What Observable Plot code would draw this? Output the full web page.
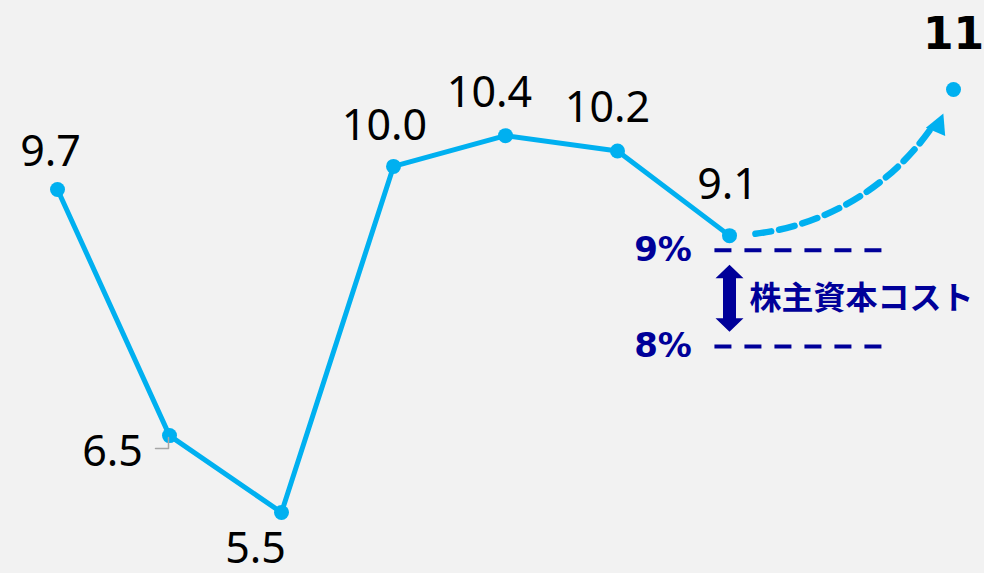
<!DOCTYPE html>
<html>
<head>
<meta charset="utf-8">
<script src="https://cdn.jsdelivr.net/npm/d3@7"></script>
<script src="https://cdn.jsdelivr.net/npm/@observablehq/plot@0.6"></script>
<style>
  html, body { margin: 0; padding: 0; background: #f2f2f2; }
  #chart { width: 984px; height: 573px; overflow: hidden; }
</style>
</head>
<body>
<div id="chart"></div>
<script>
// ---- data ----
const periodIndex = [0, 1, 2, 3, 4, 5, 6];
const roeValues = [9.7, 6.5, 5.5, 10.0, 10.4, 10.2, 9.1];
const targetIndex = 8;
const targetValue = 11;
const targetLabel = "11";
const costLabels = ["9%", "8%"];
const costLinePositions = [8.91, 7.66];   // where the two cost lines sit on the chart's value axis
const costSpan = [5.87, 7.37];            // horizontal extent of the cost lines (period units)
const costText = "株主資本コスト";

// ---- styles ----
const cyan = "#00b0f0";
const navy = "#000099";
const labelOffsets = [[-7, -37], [-57, 17], [-26, 37], [-9, -40], [-16, -42], [-10, -43], [-2, -50]];

const series = periodIndex.map((x, i) => ({x, y: roeValues[i], label: roeValues[i].toFixed(1)}));
const target = [{x: targetIndex, y: targetValue, label: targetLabel}];
const costs = costLabels.map((label, i) => ({label, y: costLinePositions[i]}));
const last = series[series.length - 1];
const costMid = [{x: last.x, y: (costLinePositions[0] + costLinePositions[1]) / 2}];

const headShape = {
  draw(ctx) {
    ctx.moveTo(0, -26);
    ctx.lineTo(10.5, -46);
    ctx.lineTo(-10.5, -46);
    ctx.closePath();
  }
};
const doubleArrow = {
  draw(ctx) {
    ctx.moveTo(0, -33.5);
    ctx.lineTo(14, -20);
    ctx.lineTo(6.5, -20);
    ctx.lineTo(6.5, 20);
    ctx.lineTo(14, 20);
    ctx.lineTo(0, 33.5);
    ctx.lineTo(-14, 20);
    ctx.lineTo(-6.5, 20);
    ctx.lineTo(-6.5, -20);
    ctx.lineTo(-14, -20);
    ctx.closePath();
  }
};
const leader = {
  draw(ctx) {
    ctx.moveTo(-14, 13);
    ctx.lineTo(-1, 13);
    ctx.lineTo(-1, 2);
  }
};

const chart = Plot.plot({
  width: 984,
  height: 573,
  marginLeft: 57,
  marginRight: 31,
  marginTop: 89,
  marginBottom: 61,
  x: {domain: [0, 8], axis: null},
  y: {domain: [5.5, 11], axis: null},
  style: {background: "#f2f2f2", overflow: "visible"},
  marks: [
    // cost of equity band
    Plot.ruleY(costs, {y: "y", x1: costSpan[0], x2: costSpan[1], stroke: navy, strokeWidth: 4, strokeDasharray: "17,13"}),
    Plot.text(costs, {x: costSpan[0], y: "y", text: "label", textAnchor: "end", dx: -23, fontSize: 34, fontWeight: "bold", fontFamily: "DejaVu Sans", fill: navy}),
    Plot.vector(costMid, {x: "x", y: "y", shape: doubleArrow, anchor: "start", length: 67, fill: navy, stroke: "none"}),
    Plot.text(costMid, {x: "x", y: "y", text: () => costText, textAnchor: "start", dx: 20, dy: 0, fontSize: 32, fontWeight: "bold", fontFamily: "Noto Sans CJK JP", fill: navy}),
    // main line
    Plot.line(series, {x: "x", y: "y", stroke: cyan, strokeWidth: 5}),
    Plot.dot(series, {x: "x", y: "y", r: 7.5, fill: cyan}),
    // leader for 6.5
    Plot.vector([series[1]], {x: "x", y: "y", shape: leader, anchor: "start", length: 10, stroke: "#a6a6a6", strokeWidth: 1.5, fill: "none"}),
    // value labels
    ...series.map((d, i) => Plot.text([d], {x: "x", y: "y", text: "label", dx: labelOffsets[i][0], dy: labelOffsets[i][1], fontSize: 43, fontFamily: "Noto Sans", fill: "#000"})),
    // target
    Plot.arrow([{x1: last.x, y1: last.y, x2: targetIndex, y2: targetValue}], {x1: "x1", y1: "y1", x2: "x2", y2: "y2", bend: -32, headLength: 0, insetStart: 26, insetEnd: 45, stroke: cyan, strokeWidth: 6.5, strokeDasharray: "16,8"}),
    Plot.vector(target, {x: "x", y: "y", shape: headShape, anchor: "start", length: 10, rotate: 203, fill: cyan, stroke: "none"}),
    Plot.dot(target, {x: "x", y: "y", r: 7.5, fill: cyan}),
    Plot.text(target, {x: "x", y: "y", text: "label", dy: -55, fontSize: 44, fontWeight: "bold", fontFamily: "DejaVu Sans", fill: "#000"})
  ]
});
document.getElementById("chart").appendChild(chart);
</script>
</body>
</html>
